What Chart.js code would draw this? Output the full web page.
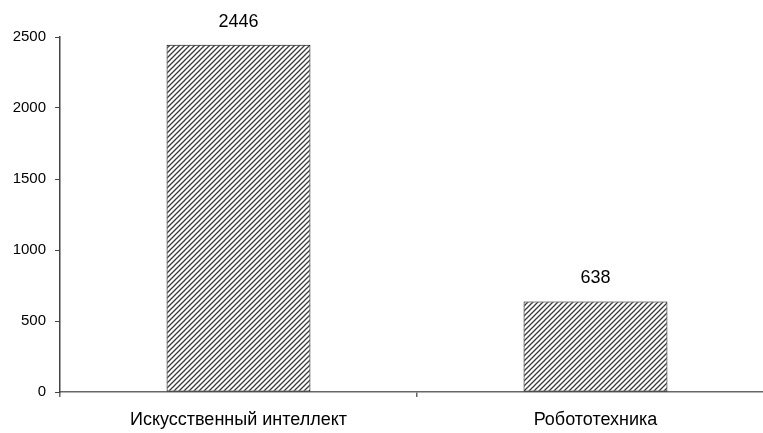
<!DOCTYPE html>
<html>
<head>
<meta charset="utf-8">
<script src="https://cdn.jsdelivr.net/npm/chart.js@4/dist/chart.umd.min.js"></script>
<style>
  html, body { margin: 0; padding: 0; background: #fff; overflow: hidden; }
  #wrap { width: 776px; height: 433px; }
</style>
</head>
<body>
<div id="wrap"><canvas id="chart" width="776" height="433"></canvas></div>
<script>
  "use strict";

  const categories = ["Искусственный интеллект", "Робототехника"];
  const counts = [2446, 638];
  const yTicks = [0, 500, 1000, 1500, 2000, 2500];

  const FONT = "'Liberation Sans', Arial, sans-serif";

  // diagonal hatch fill for the bars
  function makeHatch() {
    const size = 5;
    const c = document.createElement("canvas");
    c.width = size;
    c.height = size;
    const g = c.getContext("2d");
    g.fillStyle = "#fff";
    g.fillRect(0, 0, size, size);
    g.strokeStyle = "#3a3a3a";
    g.lineWidth = 1.3;
    g.beginPath();
    g.moveTo(-1, size + 1);
    g.lineTo(size + 1, -1);
    g.moveTo(-1, 1);
    g.lineTo(1, -1);
    g.moveTo(size - 1, size + 1);
    g.lineTo(size + 1, size - 1);
    g.stroke();
    return g.createPattern(c, "repeat");
  }

  // value printed above each bar
  const valueLabels = {
    id: "valueLabels",
    afterDatasetsDraw(chart) {
      const ctx = chart.ctx;
      const meta = chart.getDatasetMeta(0);
      ctx.save();
      ctx.font = "18px " + FONT;
      ctx.fillStyle = "#000";
      ctx.textAlign = "center";
      ctx.textBaseline = "middle";
      meta.data.forEach((bar, i) => {
        ctx.fillText(String(counts[i]), bar.x, bar.y - 23);
      });
      ctx.restore();
    }
  };

  new Chart(document.getElementById("chart"), {
    type: "bar",
    data: {
      labels: categories,
      datasets: [{
        data: counts,
        backgroundColor: makeHatch(),
        borderColor: "#000",
        borderWidth: 1,
        borderSkipped: false,
        categoryPercentage: 1,
        barPercentage: 0.403
      }]
    },
    options: {
      responsive: false,
      animation: false,
      layout: { padding: { top: 37, right: 2, left: 0, bottom: 0 } },
      plugins: {
        legend: { display: false },
        tooltip: { enabled: false }
      },
      scales: {
        x: {
          afterFit(scale) { scale.height = 41; },
          grid: {
            offset: true,
            drawOnChartArea: false,
            drawTicks: true,
            tickLength: 5,
            color: "#666",
            lineWidth: 1.5
          },
          border: { color: "#666", width: 1.5 },
          ticks: {
            color: "#000",
            padding: 12,
            maxRotation: 0,
            font: { family: FONT, size: 18 }
          }
        },
        y: {
          min: 0,
          max: 2500,
          afterFit(scale) { scale.width = 60; },
          afterBuildTicks(scale) {
            scale.ticks = yTicks.map((v) => ({ value: v }));
          },
          grid: {
            drawOnChartArea: false,
            drawTicks: true,
            tickLength: 5,
            color: "#444"
          },
          border: { color: "#444", width: 1.5 },
          ticks: {
            color: "#000",
            padding: 9,
            font: { family: FONT, size: 15 },
            callback: (v) => String(v)
          }
        }
      }
    },
    plugins: [valueLabels]
  });
</script>
</body>
</html>
